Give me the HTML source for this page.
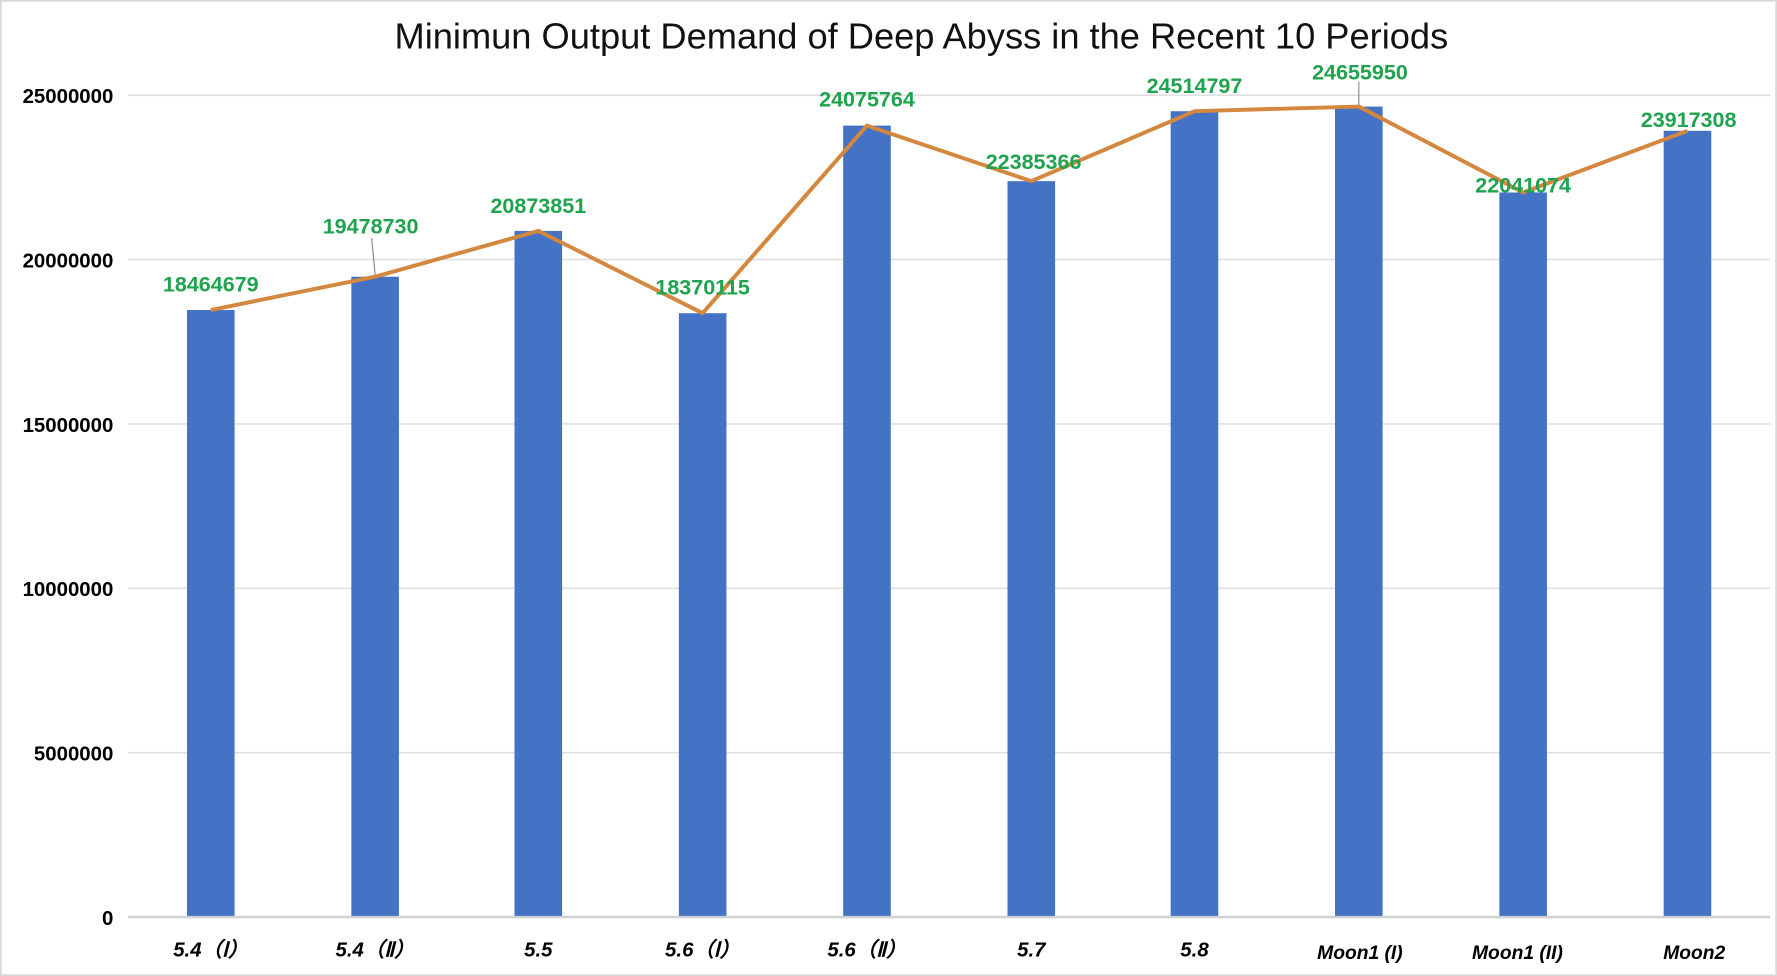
<!DOCTYPE html>
<html><head><meta charset="utf-8"><style>
html,body{margin:0;padding:0;background:#fff;}
svg{display:block;}
</style></head><body>
<svg width="1777" height="976" viewBox="0 0 1568 861" preserveAspectRatio="none" xmlns="http://www.w3.org/2000/svg">
<rect x="0.5" y="0.5" width="1567" height="860" fill="#fff" stroke="#d9d9d9" stroke-width="2"/>
<text x="813" y="43" text-anchor="middle" font-family="Liberation Sans, sans-serif" font-size="32" fill="#111">Minimun Output Demand of Deep Abyss in the Recent 10 Periods</text>
<g stroke="#e0e0e0" stroke-width="1.5">
<line x1="113" y1="84" x2="1562" y2="84"/>
<line x1="113" y1="229" x2="1562" y2="229"/>
<line x1="113" y1="374" x2="1562" y2="374"/>
<line x1="113" y1="519" x2="1562" y2="519"/>
<line x1="113" y1="664" x2="1562" y2="664"/>
</g>
<g font-family="Liberation Sans, sans-serif" font-size="18" font-weight="bold" fill="#000" text-anchor="end">
<text x="100" y="91">25000000</text>
<text x="100" y="236">20000000</text>
<text x="100" y="381">15000000</text>
<text x="100" y="526">10000000</text>
<text x="100" y="671">5000000</text>
<text x="100" y="816">0</text>
</g>
<g fill="#4472c4">
<rect x="165" y="273.5" width="42" height="535.5"/>
<rect x="310" y="244.1" width="42" height="564.9"/>
<rect x="454" y="203.7" width="42" height="605.3"/>
<rect x="599" y="276.3" width="42" height="532.7"/>
<rect x="744" y="110.8" width="42" height="698.2"/>
<rect x="889" y="159.8" width="42" height="649.2"/>
<rect x="1033" y="98.1" width="42" height="710.9"/>
<rect x="1178" y="94" width="42" height="715"/>
<rect x="1323" y="169.8" width="42" height="639.2"/>
<rect x="1468" y="115.4" width="42" height="693.6"/>
</g>
<line x1="113" y1="809" x2="1562" y2="809" stroke="#d0d0d0" stroke-width="2"/>
<polyline fill="none" stroke="#d4873e" stroke-width="3.5" stroke-linejoin="round" points="186,273.5 331,244.1 475,203.7 620,276.3 765,110.8 910,159.8 1054,98.1 1199,94 1344,169.8 1489,115.4"/>
<line x1="328" y1="210" x2="331" y2="243" stroke="#888" stroke-width="1"/>
<line x1="1199" y1="72" x2="1199" y2="93" stroke="#888" stroke-width="1"/>
<g font-family="Liberation Sans, sans-serif" font-size="19" font-weight="bold" fill="#1fa34f" text-anchor="middle">
<text x="186" y="257">18464679</text>
<text x="327" y="206">19478730</text>
<text x="475" y="188">20873851</text>
<text x="620" y="260">18370115</text>
<text x="765" y="94">24075764</text>
<text x="912" y="149">22385366</text>
<text x="1054" y="82">24514797</text>
<text x="1200" y="70">24655950</text>
<text x="1344" y="170">22041074</text>
<text x="1490" y="112">23917308</text>
</g>
<g font-family="Liberation Sans, sans-serif" font-size="18" font-weight="bold" font-style="italic" fill="#000" text-anchor="middle">
<text x="186" y="844">5.4（Ⅰ）</text>
<text x="331" y="844">5.4（Ⅱ）</text>
<text x="475" y="844">5.5</text>
<text x="620" y="844">5.6（Ⅰ）</text>
<text x="765" y="844">5.6（Ⅱ）</text>
<text x="910" y="844">5.7</text>
<text x="1054" y="844">5.8</text>
<text x="1200" y="846" font-size="17">Moon1  (I)</text>
<text x="1339" y="846" font-size="17">Moon1  (II)</text>
<text x="1495" y="846" font-size="17">Moon2</text>
</g>
</svg>
</body></html>
